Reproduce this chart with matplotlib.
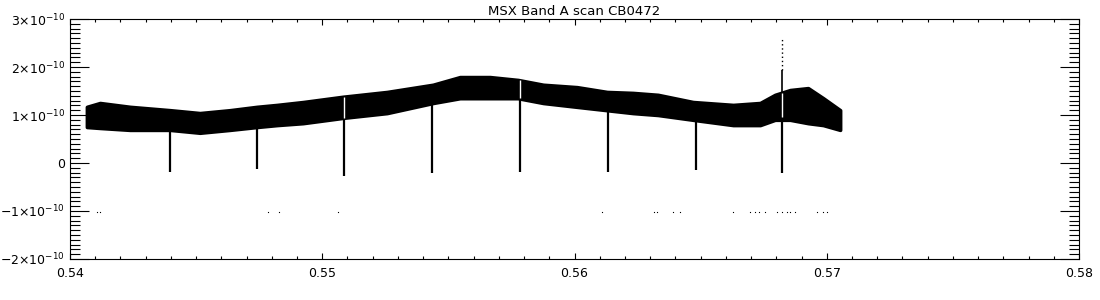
import numpy as np
import matplotlib.pyplot as plt
from matplotlib.ticker import FixedLocator, MultipleLocator, FuncFormatter

# scan band envelope (units of 1e-10)
band_x = [0.54067, 0.54119, 0.54238, 0.54397, 0.54515, 0.54634, 0.54741, 0.54821,
          0.54924, 0.55082, 0.55257, 0.55439, 0.55546, 0.55665, 0.55776, 0.55876,
          0.56010, 0.56129, 0.56232, 0.56331, 0.56470, 0.56629, 0.56736, 0.56795,
          0.56855, 0.56926, 0.56986, 0.57053]
band_hi = [1.17, 1.25, 1.17, 1.10, 1.04, 1.10, 1.17, 1.21,
           1.27, 1.38, 1.48, 1.63, 1.79, 1.79, 1.73, 1.63,
           1.58, 1.48, 1.46, 1.42, 1.27, 1.21, 1.25, 1.42,
           1.52, 1.56, 1.35, 1.10]
band_lo = [0.75, 0.73, 0.69, 0.69, 0.63, 0.69, 0.75, 0.79,
           0.83, 0.94, 1.04, 1.25, 1.35, 1.35, 1.35, 1.25,
           1.17, 1.10, 1.04, 1.00, 0.90, 0.79, 0.79, 0.90,
           0.90, 0.83, 0.79, 0.69]

# periodic dips (start inside band, end below zero)
dip_x = [0.54397, 0.54741, 0.55086, 0.55435, 0.55784, 0.56133, 0.56482, 0.56823]
dip_top = [0.80, 0.85, 1.00, 1.30, 1.40, 1.15, 0.95, 0.95]
dip_bot = [-0.19, -0.13, -0.27, -0.20, -0.18, -0.19, -0.15, -0.20]

# white gaps through the band
gap_x = [0.55086, 0.55784, 0.56823]
gap_lo = [0.94, 1.35, 0.95]
gap_hi = [1.38, 1.73, 1.45]

# spike above the band
spike_x = 0.56823
spike_top = 2.62
spike_mid = 1.94
spike_base = 1.45

# stray points near -1e-10
stray_x = [0.54107, 0.54119, 0.54785, 0.54829, 0.55063, 0.56109, 0.56316, 0.56327,
           0.56391, 0.56419, 0.56629, 0.56696, 0.56716, 0.56732, 0.56756, 0.56803,
           0.56823, 0.56843, 0.56855, 0.56875, 0.56962, 0.56986, 0.57002]
stray_y = [-1.02] * len(stray_x)

scale = 1e-10
yticks = [-2, -1, 0, 1, 2, 3]

plt.rcParams['font.family'] = ['DejaVu Sans']
fig = plt.figure(figsize=(11, 3), dpi=100)
ax = fig.add_axes([70 / 1100, 1 - 259 / 300, 1009 / 1100, 240 / 300])

ax.fill_between(band_x, np.array(band_lo) * scale, np.array(band_hi) * scale,
                color='black', linewidth=2.6, edgecolor='black')
ax.vlines(dip_x, np.array(dip_bot) * scale, np.array(dip_top) * scale,
          color='black', linewidth=1.6)
ax.vlines(gap_x, np.array(gap_lo) * scale, np.array(gap_hi) * scale,
          color='white', linewidth=1.0)
ax.vlines([spike_x], [spike_mid * scale], [spike_top * scale], color='black',
          linewidth=1.0, linestyles=(0, (1, 2)))
ax.vlines([spike_x], [spike_base * scale], [spike_mid * scale], color='black',
          linewidth=1.2)
ax.plot(stray_x, np.array(stray_y) * scale, linestyle='none', marker='s',
        markersize=0.8, markeredgewidth=0, color='black')

ax.set_xlim(0.54, 0.58)
ax.set_ylim(-2e-10, 3e-10)
ax.xaxis.set_major_locator(FixedLocator([0.54, 0.55, 0.56, 0.57, 0.58]))
ax.xaxis.set_minor_locator(MultipleLocator(0.001))
ax.xaxis.set_major_formatter(FuncFormatter(lambda v, p: '%.2f' % v))
ax.yaxis.set_major_locator(FixedLocator([v * scale for v in yticks]))
ax.yaxis.set_minor_locator(MultipleLocator(0.1e-10))


def yfmt(v, p):
    n = int(round(v / scale))
    if n == 0:
        return '0'
    sign = '\u2212' if n < 0 else ''
    return r'$%s%d{\times}10^{-10}$' % (sign, abs(n))


ax.yaxis.set_major_formatter(FuncFormatter(yfmt))
ax.tick_params(axis='both', which='both', direction='in', top=True, right=True,
               width=0.8, labelsize=9)
ax.tick_params(axis='y', which='major', length=14)
ax.tick_params(axis='y', which='minor', length=7)
ax.tick_params(axis='x', which='major', length=4, pad=6)
ax.tick_params(axis='x', which='minor', length=2)
for s in ax.spines.values():
    s.set_linewidth(0.8)

ax.set_title('MSX Band A scan CB0472', fontsize=9.5, pad=3)

fig.savefig('out.png', dpi=100)
